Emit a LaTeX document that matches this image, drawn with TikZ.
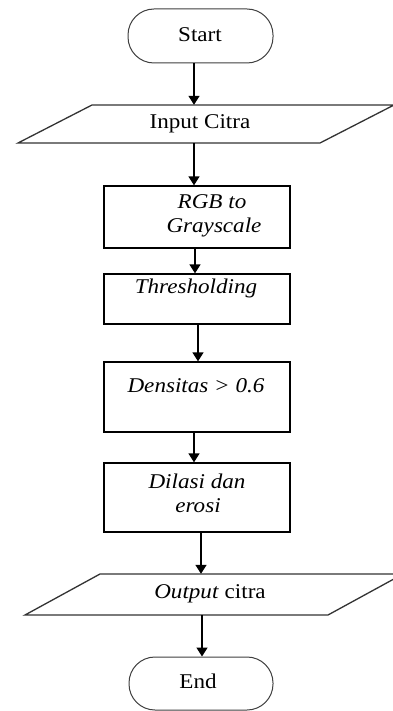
\documentclass[tikz,border=0pt]{standalone}
\usepackage{fontspec}
\setmainfont{Liberation Serif}[FakeStretch=1.1]
\usetikzlibrary{arrows.meta}
\begin{document}
\begin{tikzpicture}[x=1pt,y=-1pt,
  term/.style={draw=black!75, line width=1pt, rounded corners=26pt, minimum width=145pt, minimum height=54pt, inner sep=0pt},
  procbox/.style={draw=black, line width=1.3pt, minimum width=186pt, inner sep=0pt},
  io/.style={draw=black!80, line width=1.3pt},
  anch/.style={inner sep=0pt, draw=none},
  lbl/.style={font=\fontsize{21}{25}\selectfont, anchor=base, inner sep=0pt},
  arr/.style={draw=black, line width=1.5pt, -{Triangle[width=11pt,length=9pt]}}]
\useasboundingbox (0,0) rectangle (392,711);
\fill[white] (0,0) rectangle (392,711);

% shapes
\node[term] (start) at (200.5,36) {};
\draw[io] (18,143) -- (320,143) -- (394,105) -- (92,105) -- cycle;
\node[anch, minimum width=228pt, minimum height=38pt] (input) at (206,124) {};
\node[procbox, minimum height=62pt] (rgb) at (197,217) {};
\node[procbox, minimum height=50pt] (thr) at (197,299) {};
\node[procbox, minimum height=70pt] (dens) at (197,397) {};
\node[procbox, minimum height=69pt] (dil) at (197,497.5) {};
\draw[io] (25,615) -- (328,615) -- (403,574) -- (100,574) -- cycle;
\node[anch, minimum width=228pt, minimum height=41pt] (output) at (214,594.5) {};
\node[term, minimum width=144pt, minimum height=53pt] (end) at (201,683.5) {};

% labels
\node[lbl] (tstart) at (200,42) {Start};
\node[lbl] (tinput) at (200,129) {Input Citra};
\node[lbl] (trgb1) at (212,209) {\textit{RGB to}};
\node[lbl] (trgb2) at (214,233) {\textit{Grayscale}};
\node[lbl] (tthr) at (196,293) {\textit{Thresholding}};
\node[lbl] (tdens) at (196,392) {\textit{Densitas > 0.6}};
\node[lbl] (tdil1) at (197,488) {\textit{Dilasi dan}};
\node[lbl] (tdil2) at (198,512) {\textit{erosi}};
\node[lbl] (tout) at (210,598) {\textit{Output} citra};
\node[lbl] (tend) at (198,688) {End};

% connector axes
\coordinate (a1) at (194,0);
\coordinate (a2) at (194,0);
\coordinate (a3) at (195,0);
\coordinate (a4) at (198,0);
\coordinate (a5) at (194,0);
\coordinate (a6) at (201,0);
\coordinate (a7) at (202,0);

% connectors
\draw[arr] (a1 |- start.south) -- (a1 |- input.north);
\draw[arr] (a2 |- input.south) -- (a2 |- rgb.north);
\draw[arr] (a3 |- rgb.south) -- (a3 |- thr.north);
\draw[arr] (a4 |- thr.south) -- (a4 |- dens.north);
\draw[arr] (a5 |- dens.south) -- (a5 |- dil.north);
\draw[arr] (a6 |- dil.south) -- (a6 |- output.north);
\draw[arr] (a7 |- output.south) -- (a7 |- end.north);
\end{tikzpicture}
\end{document}
